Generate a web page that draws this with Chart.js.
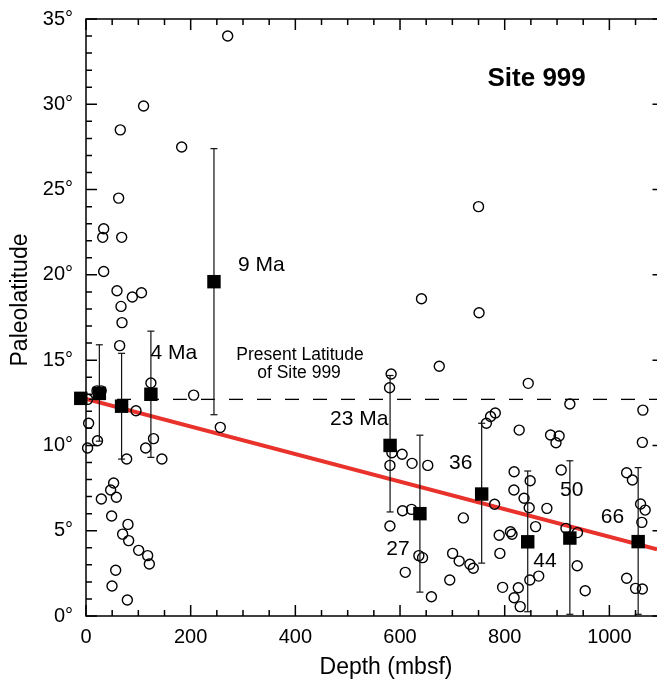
<!DOCTYPE html>
<html>
<head>
<meta charset="utf-8">
<script src="https://cdn.jsdelivr.net/npm/chart.js@4/dist/chart.umd.min.js"></script>
<style>
html,body{margin:0;padding:0;background:#fff;overflow:hidden;}
canvas{display:block;}
</style>
</head>
<body>
<canvas id="c" width="657" height="679" style="width:657px;height:679px"></canvas>
<script>
// ---- Data ----
const sampleDepth = [
  270.7, 110, 65.5, 182.8, 62.4, 33.8, 31.9, 68.2, 33.8, 59.2, 88.5, 106, 66.9, 68.8, 64.3,
  124, 205.7, 21, 29, 3, 95.5, 5, 22, 3, 77.7, 114, 129, 145, 256.6, 52.8, 47.1, 58, 29.3,
  49, 80.2, 70, 81.5, 100.6, 117.8, 121, 56.7, 49.7, 79,
  641, 675, 583, 580, 584.5, 604, 623, 653, 580.7, 604.8, 622, 580.7, 721, 636, 643, 610,
  700.5, 713, 733.5, 740, 695, 660, 750, 751, 845, 924.5, 1064, 782, 773, 765, 827.7,
  887.6, 904, 898, 1063, 818, 848.7, 817.6, 837, 846.8, 880.6, 780.7, 859, 908, 1033, 1044,
  1059.6, 1068.4, 1062, 811, 814, 789.5, 790.8, 917, 939, 938.5, 848, 865, 796, 826, 818,
  829.6, 953.8, 1033, 1050, 1063
];
const sampleLat = [
  34.0, 29.9, 28.5, 27.5, 24.5, 22.7, 22.2, 22.2, 20.2, 19.07, 18.7, 18.95, 18.15, 17.2, 15.85,
  13.66, 12.95, 13.2, 13.2, 12.7, 12.03, 11.3, 10.27, 9.85, 9.2, 9.85, 10.4, 9.2, 11.06, 7.8, 7.39, 6.96, 6.86,
  5.86, 5.37, 4.8, 4.42, 3.85, 3.54, 3.05, 2.68, 1.76, 0.94,
  18.6, 14.64, 14.19, 13.38, 9.57, 9.48, 8.95, 8.83, 8.83, 6.17, 6.25, 5.28, 5.75, 3.54, 3.42, 2.56,
  3.67, 3.22, 3.03, 2.8, 2.11, 1.13, 24.0, 17.78, 13.64, 12.43, 12.07, 11.9, 11.7, 11.3, 10.9,
  10.61, 10.55, 10.16, 10.18, 8.46, 7.93, 7.39, 6.9, 6.35, 6.31, 6.55, 5.24, 8.56, 8.4, 7.97,
  6.57, 6.21, 5.49, 4.94, 4.79, 4.73, 3.67, 5.14, 4.89, 2.95, 2.11, 2.34, 1.68, 1.66, 1.07,
  0.55, 1.48, 2.21, 1.62, 1.58
];
const meanDepth = [-10, 25.5, 68, 124, 244.5, 581, 638, 756, 844, 924.5, 1055];
const meanLat   = [12.76, 13.05, 12.3, 13.0, 19.6, 10.0, 6.0, 7.15, 4.35, 4.57, 4.36];
const errLow    = [null, 10.25, 9.2, 9.3, 11.8, 6.1, 1.4, 3.1, 0.25, 0.1, 0.1];
const errHigh   = [null, 15.9, 15.4, 16.7, 27.4, 14.1, 10.6, 11.3, 8.5, 9.1, 8.7];
const ageLabels     = ['4 Ma', '9 Ma', '23 Ma', '27', '36', '44', '50', '66'];
const ageLabelDepth = [168, 335, 522, 596, 716, 877, 928, 1006];
const ageLabelLat   = [15.4, 20.55, 11.55, 3.93, 8.97, 3.22, 7.39, 5.82];
const presentLatitude = 12.7;
const trendDepth = [0, 1091];
const trendLat   = [12.72, 3.91];
const depthTicks = [0, 200, 400, 600, 800, 1000];
const latTicks   = [0, 5, 10, 15, 20, 25, 30, 35];
const depthRange = [0, 1091];
const latRange   = [0, 35];

const notes = [
  {text: 'Site 999', depth: 861, lat: 31.52, font: 'bold 26px "Liberation Sans", Arial, sans-serif'},
  {text: 'Present Latitude', depth: 409, lat: 15.3, font: '17.5px "Liberation Sans", Arial, sans-serif'},
  {text: 'of Site 999', depth: 407, lat: 14.24, font: '17.5px "Liberation Sans", Arial, sans-serif'}
];

const FONT = '"Liberation Sans", Arial, Helvetica, sans-serif';

const framePlugin = {
  id: 'frameTicks',
  afterDraw(chart) {
    const {ctx, chartArea: a, scales: {x, y}} = chart;
    ctx.save();
    ctx.strokeStyle = '#000';
    ctx.lineWidth = 1.5;
    ctx.beginPath();
    ctx.moveTo(a.right, a.top); ctx.lineTo(a.left, a.top);
    ctx.lineTo(a.left, a.bottom); ctx.lineTo(a.right, a.bottom);
    ctx.stroke();
    ctx.beginPath();
    for (let v = 0; v <= x.max; v += 50) {
      const px = x.getPixelForValue(v);
      const len = v % 200 === 0 ? 11 : 6;
      ctx.moveTo(px, a.bottom); ctx.lineTo(px, a.bottom - len);
      ctx.moveTo(px, a.top); ctx.lineTo(px, a.top + len);
    }
    for (let v = 0; v <= y.max; v += 1) {
      const py = y.getPixelForValue(v);
      const len = v % 5 === 0 ? 11 : 6;
      ctx.moveTo(a.left, py); ctx.lineTo(a.left + len, py);
      if (v % 5 === 0) { ctx.moveTo(a.right, py); ctx.lineTo(a.right - 4.5, py); }
    }
    ctx.stroke();

    ctx.fillStyle = '#000';
    ctx.textAlign = 'center';
    ctx.textBaseline = 'middle';
    ctx.font = '21px ' + FONT;
    ageLabels.forEach((t, i) => {
      ctx.fillText(t, x.getPixelForValue(ageLabelDepth[i]), y.getPixelForValue(ageLabelLat[i]));
    });
    notes.forEach(n => {
      ctx.font = n.font;
      ctx.fillText(n.text, x.getPixelForValue(n.depth), y.getPixelForValue(n.lat));
    });

    ctx.font = '23px ' + FONT;
    ctx.fillText('Depth (mbsf)', 386, 668);
    ctx.save();
    ctx.translate(21, 300);
    ctx.rotate(-Math.PI / 2);
    ctx.fillText('Paleolatitude', 0, 0);
    ctx.restore();
    ctx.restore();
  }
};

const pts = (xs, ys) => xs.map((d, i) => ({x: d, y: ys[i]}));
const errData = [];
meanDepth.forEach((d, i) => {
  if (errLow[i] === null) return;
  errData.push({x: d, y: errLow[i]}, {x: d, y: errHigh[i]}, {x: d, y: null});
});

new Chart(document.getElementById('c'), {
  type: 'scatter',
  data: {
    datasets: [
      {
        label: 'Mean paleolatitude',
        data: pts(meanDepth, meanLat),
        pointStyle: 'rect', pointRadius: 9.5,
        backgroundColor: '#000', borderColor: '#000', borderWidth: 0,
        order: 0, clip: false
      },
      {
        label: 'Error',
        data: errData,
        showLine: true, spanGaps: false,
        borderColor: '#111', borderWidth: 1.2,
        pointStyle: 'line', pointRadius: 3.5, pointBorderWidth: 1.2,
        pointBorderColor: '#111', pointBackgroundColor: '#111',
        order: 1, clip: false
      },
      {
        label: 'Samples',
        data: pts(sampleDepth, sampleLat),
        pointStyle: 'circle', pointRadius: 5,
        backgroundColor: 'rgba(0,0,0,0)', borderColor: '#000', borderWidth: 1.4,
        order: 2, clip: false
      },
      {
        label: 'Present latitude',
        data: [{x: depthRange[0], y: presentLatitude}, {x: depthRange[1], y: presentLatitude}],
        showLine: true, pointRadius: 0,
        borderColor: '#000', borderWidth: 1.3, borderDash: [14, 14], borderDashOffset: -3,
        order: 3
      },
      {
        label: 'Trend',
        data: pts(trendDepth, trendLat),
        showLine: true, pointRadius: 0,
        borderColor: '#e8322b', borderWidth: 4,
        order: 4
      }
    ]
  },
  options: {
    responsive: false,
    maintainAspectRatio: false,
    devicePixelRatio: 1,
    animation: false,
    events: [],
    layout: {autoPadding: false, padding: {top: 19, right: 0, left: 0, bottom: 0}},
    plugins: {legend: {display: false}, tooltip: {enabled: false}},
    scales: {
      x: {
        type: 'linear', position: 'bottom',
        min: depthRange[0], max: depthRange[1],
        grid: {display: false, drawTicks: false},
        border: {display: false},
        afterBuildTicks: s => { s.ticks = depthTicks.map(v => ({value: v})); },
        afterFit: s => { s.height = 63; s.paddingLeft = 0; s.paddingRight = 0; },
        ticks: {
          font: {size: 20, family: FONT}, color: '#000', padding: 9,
          maxRotation: 0, autoSkip: false,
          callback: v => String(v)
        }
      },
      y: {
        type: 'linear', position: 'left',
        min: latRange[0], max: latRange[1],
        grid: {display: false, drawTicks: false},
        border: {display: false},
        afterBuildTicks: s => { s.ticks = latTicks.map(v => ({value: v})); },
        afterFit: s => { s.width = 86; s.paddingTop = 0; s.paddingBottom = 0; },
        ticks: {
          font: {size: 20, family: FONT}, color: '#000', padding: 13,
          autoSkip: false,
          callback: v => v + '°'
        }
      }
    }
  },
  plugins: [framePlugin]
});
</script>
</body>
</html>
